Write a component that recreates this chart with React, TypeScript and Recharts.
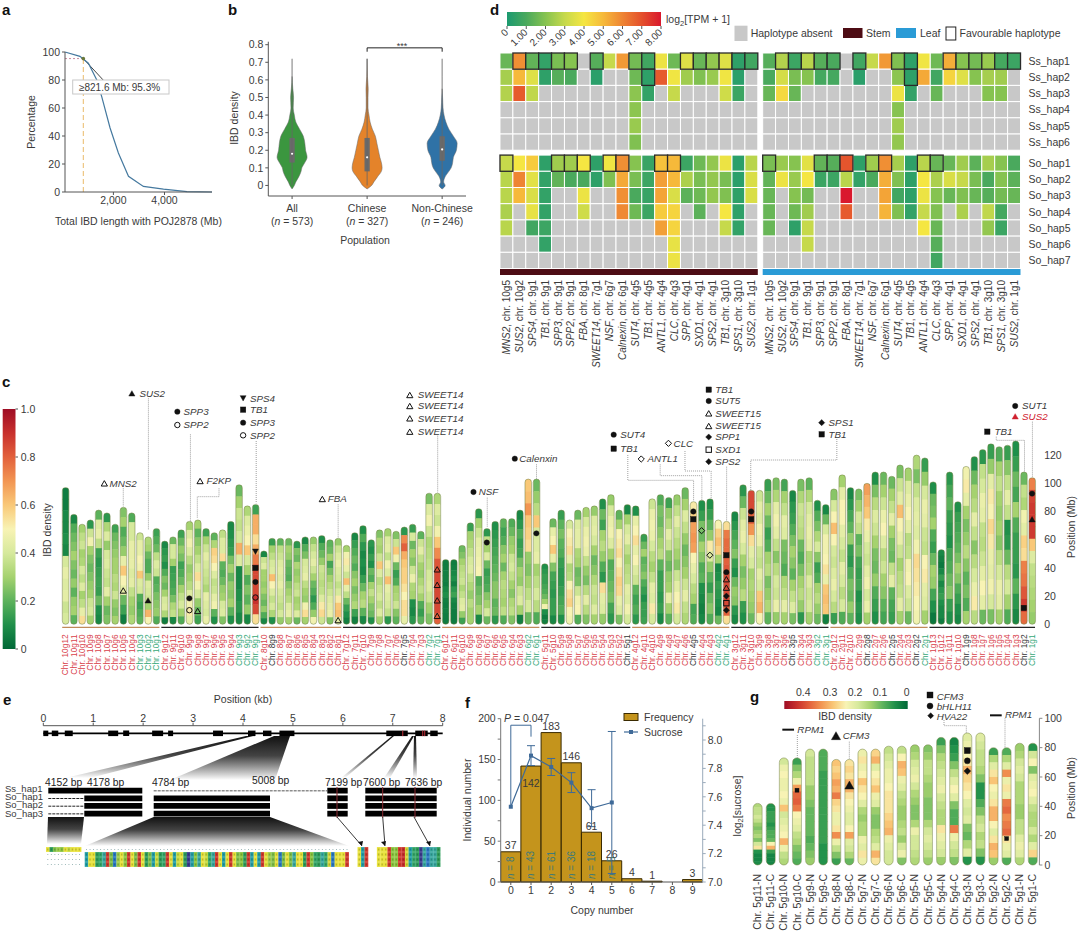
import React from 'react'
import {
  Area, Bar, BarChart, ComposedChart, ErrorBar, LabelList, Line, LineChart,
  ReferenceArea, ReferenceDot, ReferenceLine, Scatter, ScatterChart, XAxis, YAxis,
} from 'recharts'

const FONT = '"Liberation Sans", Arial, sans-serif'
const INK = '#3a3a3a'

// ---- panel a
const ibdLength = [105, 690, 1020, 1350, 1545, 1870, 2195, 2590, 3175, 3960, 4880, 5860]
const ibdPercent = [100, 96.9, 92, 80, 68, 45.7, 27.9, 11.2, 4, 2, 0.2, 0]

// ---- panel b
const violinY = [-0.02, 0, 0.02, 0.05, 0.08, 0.1, 0.13, 0.16, 0.2, 0.24, 0.28, 0.32, 0.36, 0.4, 0.44, 0.5, 0.55, 0.62, 0.72]
const violinAll = [0, 0.03, 0.05, 0.09, 0.12, 0.13, 0.17, 0.2, 0.18, 0.17, 0.15, 0.1, 0.05, 0.03, 0.015, 0.02, 0.01, 0, 0]
const violinChinese = [0, 0.06, 0.09, 0.14, 0.19, 0.2, 0.19, 0.17, 0.15, 0.13, 0.11, 0.07, 0.04, 0.025, 0.012, 0.012, 0.015, 0.004, 0]
const violinNon = [0, 0.04, 0.02, 0.04, 0.09, 0.12, 0.14, 0.15, 0.19, 0.2, 0.15, 0.09, 0.05, 0.025, 0.012, 0.006, 0, 0, 0]
const violinLabels = ['All', 'Chinese', 'Non-Chinese']
const violinCounts = ['573', '327', '246']
const boxLow = [0.13, 0.08, 0.14]
const boxHigh = [0.27, 0.27, 0.28]
const medians = [0.18, 0.16, 0.205]
const whiskerTop = [0.62, 0.72, 0.55]
const violinColours = ['#3b963f', '#e4832a', '#2f72a6']

// ---- panel d
const _ = null
const geneNames = ['MNS2', 'SUS2', 'SPS4', 'TB1', 'SPP3', 'SPP2', 'FBA', 'SWEET14', 'NSF', 'Calnexin', 'SUT4', 'TB1', 'ANTL1', 'CLC', 'SPP', 'SXD1', 'SPS2', 'TB1', 'SPS1', 'SUS2']
const geneChrs = ['10g5', '10g2', '9g1', '9g1', '9g1', '9g1', '8g1', '7g1', '6g7', '6g1', '4g5', '4g5', '4g4', '4g3', '4g1', '4g1', '4g1', '3g10', '3g10', '1g1']
const hapRows = ['Ss_hap1', 'Ss_hap2', 'Ss_hap3', 'Ss_hap4', 'Ss_hap5', 'Ss_hap6', 'So_hap1', 'So_hap2', 'So_hap3', 'So_hap4', 'So_hap5', 'So_hap6', 'So_hap7']
const stemTpm = [
  [1.5, 5.8, 1.4, 0.5, 1.8, 2.0, _, 1.2, 3.0, 5.6, 1.7, 0.8, 3.8, 1.6, 3.5, 1.5, 2.2, 3.5, 0.4, 0.8],
  [2.5, 5.0, 3.5, 0.4, 1.2, 1.0, _, 0.3, _, _, 1.6, 0.4, 6.8, 3.9, 2.4, 1.9, 2.3, 3.9, 0.3, _],
  [2.7, 6.8, 2.9, _, _, _, _, _, _, _, 2.1, 0.5, _, 3.0, _, _, _, 3.2, 0.7, _],
  [_, _, _, _, _, _, _, _, _, _, 2.1, _, _, _, _, _, _, _, _, _],
  [_, _, _, _, _, _, _, _, _, _, 2.3, _, _, _, _, _, _, _, _, _],
  [_, _, _, _, _, _, _, _, _, _, 1.9, _, _, _, _, _, _, _, _, _],
  [3.0, 4.0, 4.6, 0.4, 2.4, 2.4, 4.0, 0.4, 3.9, 5.8, 2.0, 0.6, 4.8, 5.0, 0.7, 1.6, 2.2, 3.8, 0.3, 2.8],
  [2.8, 6.0, 3.6, 0.5, 1.4, 1.0, 1.0, 0.4, 1.9, 5.3, 1.8, 0.7, 5.5, 5.0, 2.6, 1.8, 2.2, 1.8, 0.3, 3.4],
  [2.8, 5.0, 3.4, 0.5, _, _, 3.8, _, _, 5.8, 1.0, 0.6, 5.4, 3.4, 1.3, 1.6, 2.2, 1.9, 0.4, 3.4],
  [2.6, _, 3.7, 0.5, _, _, 3.2, _, _, 5.9, 1.6, 0.7, 4.6, 4.4, _, 1.3, _, 4.0, 0.4, _],
  [2.8, _, 0.8, 0.7, _, _, _, _, _, _, _, _, 5.5, 4.4, _, _, _, 3.0, 0.5, _],
  [_, _, _, 0.5, _, _, _, _, _, _, _, _, _, 3.7, _, _, _, _, _, _],
  [_, _, _, _, _, _, _, _, _, _, _, _, _, 3.8, _, _, _, _, _, _],
]
const leafTpm = [
  [1.2, 2.7, 0.7, 2.8, 1.2, 1.0, _, 0.8, 3.0, 5.6, 1.9, 0.4, 3.9, 1.6, 5.2, 2.0, 1.7, 2.3, 0.9, 0.7],
  [1.0, 3.3, 1.8, 2.0, 0.9, 0.9, _, 0.3, _, _, 2.1, 0.4, 5.3, 0.8, 4.4, 3.5, 2.0, 2.5, 2.4, _],
  [1.5, 4.3, 1.5, _, _, _, _, _, _, _, 3.8, 0.5, _, 1.5, _, _, _, 2.0, 2.0, _],
  [_, _, _, _, _, _, _, _, _, _, 2.0, _, _, _, _, _, _, _, _, _],
  [_, _, _, _, _, _, _, _, _, _, 2.4, _, _, _, _, _, _, _, _, _],
  [_, _, _, _, _, _, _, _, _, _, 2.2, _, _, _, _, _, _, _, _, _],
  [1.8, 2.3, 2.0, 3.6, 1.4, 1.2, 6.9, 0.4, 2.4, 5.8, 2.5, 0.4, 2.8, 1.5, 1.5, 2.4, 1.3, 2.5, 2.0, 1.0],
  [1.4, 3.8, 2.3, 4.0, 0.7, 0.7, 2.8, 0.5, 1.0, 5.2, 1.9, 0.4, 4.0, 2.6, 3.4, 3.0, 1.8, 1.0, 2.0, 1.3],
  [1.5, _, 2.0, 1.7, _, _, 8.0, _, _, 5.4, 0.8, 0.4, 3.8, 2.0, 1.5, 1.9, 1.5, 1.2, 1.7, 1.5],
  [1.5, _, 1.6, 2.4, _, _, 6.8, _, _, 5.1, 1.9, 0.5, 3.0, 1.9, _, 2.6, _, 2.9, 0.9, _],
  [1.5, _, 0.4, 3.0, _, _, _, _, _, _, _, _, 4.0, 1.5, _, _, _, 2.2, 0.7, _],
  [_, _, _, 3.0, _, _, _, _, _, _, _, _, _, 1.2, _, _, _, _, _, _],
  [_, _, _, _, _, _, _, _, _, _, _, _, _, 0.8, _, _, _, _, _, _],
]
const favourableSs1 = [1, 2, 3, 4, 5, 7, 10, 11, 14, 15, 16, 17, 18, 19]
const favourableSs2 = [11]
const favourableSo1 = [0, 4, 5, 6, 8, 9, 12, 13]

// ---- panel c: length in Mb, bands read top to bottom as density x 100
const chr10Len = [97, 78, 71, 74, 81, 79, 71, 83, 79, 65, 62, 68]
const chr10Bands = [
  [5, 5, 8, 8, 10, 8, 40, 45, 42, 44, 38, 40], [8, 18, 22, 25, 30, 25, 22, 28, 20, 28, 30, 20], [30, 35, 38, 30, 32, 40, 35, 42, 30, 35, 45, 55], [12, 38, 48, 30, 25, 22, 25, 28, 30, 38, 40, 30],
  [20, 42, 45, 35, 15, 12, 14, 15, 14, 22, 10, 8], [12, 32, 42, 28, 40, 42, 38, 36, 44, 30, 22, 25], [15, 22, 25, 28, 30, 30, 34, 32, 38, 28, 25, 30], [25, 30, 18, 22, 28, 45, 60, 50, 45, 22, 15, 5],
  [18, 40, 40, 45, 45, 45, 42, 44, 36, 30, 28, 32], [38, 45, 45, 50, 48, 60, 42, 40, 18, 15, 18, 20], [32, 30, 22, 18, 18, 28, 42, 40, 38, 30, 64, 50], [15, 18, 22, 35, 42, 38, 18, 20, 24, 26, 28, 18],
]
const chr9Len = [59, 62, 67, 73, 74, 68, 65, 67, 73, 99, 84, 85]
const chr9Bands = [
  [8, 12, 14, 10, 18, 25, 22, 30, 40, 42, 32, 5], [22, 40, 40, 30, 14, 15, 16, 18, 24, 32, 36, 8], [15, 22, 28, 24, 15, 18, 22, 30, 36, 40, 30, 18], [30, 42, 48, 42, 34, 28, 30, 34, 42, 48, 52, 45],
  [30, 20, 26, 30, 36, 42, 55, 48, 40, 28, 22, 15], [15, 30, 38, 44, 40, 38, 36, 32, 45, 42, 40, 46], [20, 32, 58, 55, 50, 42, 36, 38, 44, 48, 20, 10], [35, 42, 42, 55, 20, 18, 22, 28, 30, 40, 42, 25],
  [8, 10, 12, 14, 24, 30, 22, 28, 26, 30, 20, 10], [22, 30, 38, 36, 40, 65, 42, 8, 8, 10, 12, 8], [32, 42, 46, 50, 60, 40, 30, 18, 25, 20, 28, 8], [15, 65, 65, 55, 65, 75, 85, 85, 85, 90, 85, 55],
]
const chr8Len = [52, 61, 61, 61, 59, 62, 62, 63, 60, 61]
const chr8Bands = [
  [8, 38, 42, 30, 30, 28, 30, 25, 22, 28, 18, 8], [14, 30, 35, 40, 42, 62, 50, 42, 36, 40, 32, 10], [20, 35, 38, 42, 44, 42, 45, 40, 38, 35, 40, 28], [22, 30, 28, 22, 20, 18, 26, 30, 34, 42, 45, 30],
  [12, 25, 22, 32, 28, 30, 35, 38, 30, 32, 42, 22], [8, 18, 24, 40, 42, 45, 35, 30, 28, 48, 55, 30], [28, 36, 40, 44, 38, 30, 22, 18, 12, 18, 28, 48], [10, 18, 22, 28, 38, 36, 34, 36, 42, 52, 56, 38],
  [20, 22, 30, 16, 24, 30, 34, 38, 42, 44, 46, 25], [28, 38, 42, 46, 42, 40, 36, 40, 52, 60, 62, 45],
]
const chr7Len = [56, 65, 70, 60, 67, 68, 66, 69, 71, 66, 93, 93]
const chr7Bands = [
  [30, 48, 52, 46, 38, 62, 45, 35, 22, 14, 10, 6], [8, 14, 18, 22, 18, 26, 30, 24, 28, 32, 15, 6], [10, 18, 12, 8, 10, 8, 14, 22, 30, 34, 20, 8], [12, 10, 14, 10, 22, 18, 30, 36, 30, 25, 22, 10],
  [25, 32, 30, 38, 60, 42, 34, 38, 40, 35, 42, 30], [30, 42, 44, 36, 48, 42, 62, 45, 42, 40, 36, 12], [25, 38, 60, 48, 22, 14, 18, 30, 32, 38, 26, 20], [12, 72, 80, 65, 60, 58, 58, 54, 50, 55, 55, 45],
  [14, 40, 22, 30, 26, 38, 46, 32, 30, 10, 8, 12], [20, 38, 44, 36, 30, 28, 32, 36, 30, 18, 14, 20], [24, 42, 48, 38, 32, 34, 36, 40, 42, 38, 30, 25], [32, 42, 38, 48, 60, 72, 82, 85, 85, 85, 85, 80],
]
const chr6Len = [46, 46, 56, 72, 82, 68, 73, 75, 75, 81, 103, 103]
const chr6Bands = [
  [5, 5, 6, 6, 5, 8, 10, 6, 5, 6, 5, 5], [5, 6, 8, 10, 6, 12, 15, 8, 6, 5, 5, 5], [22, 25, 30, 34, 36, 38, 32, 36, 42, 44, 28, 15], [14, 30, 32, 36, 40, 42, 36, 32, 28, 34, 30, 30],
  [12, 30, 38, 44, 46, 48, 50, 18, 22, 25, 30, 8], [12, 36, 30, 42, 22, 14, 16, 18, 26, 30, 40, 22], [10, 12, 14, 16, 18, 20, 22, 26, 26, 20, 22, 12], [20, 15, 18, 26, 30, 22, 30, 34, 32, 30, 35, 18],
  [18, 22, 28, 30, 38, 40, 36, 30, 26, 32, 35, 25], [8, 12, 18, 14, 16, 24, 30, 28, 38, 42, 30, 6], [60, 62, 70, 60, 58, 55, 28, 25, 30, 35, 40, 22], [22, 28, 34, 60, 40, 42, 45, 30, 35, 40, 34, 18],
]
const chr5Len = [43, 75, 81, 74, 81, 83, 84, 89, 92, 81, 85]
const chr5Bands = [
  [10, 12, 14, 14, 16, 18, 22, 30, 48, 10, 5, 6], [22, 45, 50, 60, 45, 25, 16, 14, 12, 14, 14, 8], [14, 20, 24, 20, 18, 14, 12, 12, 14, 16, 18, 10], [40, 50, 52, 55, 45, 32, 34, 50, 55, 58, 50, 48],
  [22, 42, 44, 44, 32, 30, 22, 24, 38, 48, 50, 18], [30, 40, 46, 48, 46, 36, 28, 24, 34, 44, 34, 25], [28, 42, 44, 40, 30, 22, 26, 32, 38, 36, 42, 30], [10, 22, 15, 30, 34, 28, 18, 12, 55, 44, 42, 28],
  [28, 40, 46, 48, 42, 30, 18, 20, 22, 24, 16, 12], [20, 30, 50, 52, 55, 50, 54, 58, 56, 46, 42, 24], [8, 30, 40, 44, 36, 30, 34, 36, 44, 42, 48, 40],
]
const chr4Len = [84, 64, 89, 92, 90, 92, 97, 87, 88, 89, 74, 73]
const chr4Bands = [
  [10, 45, 50, 55, 45, 50, 42, 38, 20, 15, 18, 12], [14, 22, 30, 20, 22, 26, 18, 14, 10, 14, 14, 15], [38, 46, 48, 46, 40, 34, 30, 36, 44, 42, 52, 40], [18, 24, 22, 26, 30, 34, 20, 14, 14, 12, 14, 8],
  [15, 28, 34, 44, 38, 26, 22, 28, 30, 45, 30, 20], [28, 36, 44, 38, 34, 30, 26, 38, 44, 50, 52, 40], [22, 30, 42, 36, 28, 22, 26, 30, 38, 44, 36, 32], [52, 58, 68, 70, 68, 50, 45, 40, 34, 30, 16, 18],
  [10, 14, 24, 22, 30, 26, 18, 20, 10, 8, 6, 8], [10, 14, 20, 28, 52, 42, 28, 20, 14, 22, 26, 18], [50, 58, 62, 58, 30, 8, 10, 14, 12, 10, 8, 22], [55, 75, 78, 78, 80, 82, 85, 85, 85, 85, 80, 55],
]
const chr3Len = [80, 99, 95, 95, 103, 104, 103, 95, 103, 104, 88, 85]
const chr3Bands = [
  [8, 12, 16, 20, 25, 14, 10, 22, 28, 26, 12, 8], [12, 22, 38, 44, 46, 40, 30, 24, 28, 34, 14, 10], [85, 85, 80, 70, 55, 44, 40, 30, 32, 30, 28, 22], [38, 44, 42, 48, 46, 38, 36, 44, 40, 60, 64, 50],
  [14, 22, 30, 22, 14, 18, 30, 34, 24, 28, 32, 20], [24, 32, 44, 48, 44, 36, 26, 34, 40, 38, 46, 28], [16, 30, 36, 44, 42, 24, 22, 18, 32, 36, 44, 30], [8, 12, 14, 18, 24, 30, 26, 20, 30, 36, 42, 24],
  [24, 32, 38, 36, 34, 22, 18, 24, 30, 34, 28, 12], [20, 32, 40, 44, 46, 44, 32, 34, 42, 38, 40, 30], [10, 18, 24, 32, 40, 26, 14, 18, 30, 34, 28, 22], [8, 22, 40, 48, 48, 50, 54, 46, 60, 62, 60, 6],
]
const chr2Len = [96, 106, 97, 96, 100, 108, 108, 105, 113, 111, 120, 118]
const chr2Bands = [
  [26, 40, 50, 62, 50, 40, 38, 42, 46, 40, 34, 14], [30, 44, 50, 50, 44, 40, 36, 44, 40, 34, 40, 18], [8, 12, 16, 20, 28, 14, 12, 18, 24, 22, 28, 20], [24, 30, 40, 36, 20, 24, 16, 14, 16, 10, 12, 10],
  [68, 64, 60, 52, 46, 40, 38, 44, 48, 40, 46, 30], [10, 24, 34, 42, 38, 30, 24, 22, 28, 18, 14, 10], [22, 30, 38, 46, 50, 42, 34, 38, 30, 26, 20, 16], [22, 30, 36, 44, 30, 24, 22, 36, 44, 20, 16, 14],
  [24, 38, 44, 62, 50, 46, 38, 30, 34, 36, 44, 30], [30, 42, 46, 50, 44, 34, 36, 48, 50, 42, 38, 22], [32, 24, 36, 42, 44, 42, 48, 56, 54, 52, 50, 48], [14, 28, 40, 46, 44, 38, 36, 50, 52, 44, 42, 30],
]
const chr1Len = [101, 53, 108, 87, 112, 119, 124, 128, 126, 127, 130, 108, 104]
const chr1Bands = [
  [10, 22, 24, 30, 18, 14, 22, 30, 28, 16, 10, 4], [8, 6, 4, 8, 14, 8, 12, 14, 10, 8, 8, 5], [12, 16, 20, 14, 12, 10, 16, 18, 22, 26, 14, 10], [10, 14, 16, 18, 20, 24, 30, 26, 18, 14, 10, 8],
  [48, 52, 44, 30, 24, 28, 34, 26, 20, 24, 18, 30], [10, 22, 30, 34, 44, 36, 26, 34, 40, 46, 52, 34], [12, 36, 40, 46, 44, 36, 34, 38, 44, 50, 44, 22], [14, 28, 44, 52, 50, 56, 52, 46, 44, 48, 40, 24],
  [18, 30, 36, 30, 28, 30, 26, 34, 40, 46, 44, 30], [14, 26, 36, 44, 36, 10, 12, 22, 34, 40, 30, 18], [10, 14, 22, 16, 30, 18, 14, 14, 12, 20, 12, 8], [22, 36, 32, 48, 44, 58, 55, 74, 76, 82, 88, 78],
  [74, 86, 88, 88, 88, 60, 42, 36, 34, 32, 30, 28],
]
const greenLabels = ['10g3', '10g2', '10g1', '9g3', '9g2', '9g1', '7g2', '7g1', '6g2', '6g1', '4g2', '4g1', '3g2', '3g1', '2g1', '1g1']
const blackLabels = ['8g9', '7g5', '5g1', '4g5', '3g5', '2g8', '2g5', '2g2', '1g9', '1g2']
const chromGroups = [
  { chr: 10, len: chr10Len, bands: chr10Bands }, { chr: 9, len: chr9Len, bands: chr9Bands }, { chr: 8, len: chr8Len, bands: chr8Bands },
  { chr: 7, len: chr7Len, bands: chr7Bands }, { chr: 6, len: chr6Len, bands: chr6Bands }, { chr: 5, len: chr5Len, bands: chr5Bands },
  { chr: 4, len: chr4Len, bands: chr4Bands }, { chr: 3, len: chr3Len, bands: chr3Bands }, { chr: 2, len: chr2Len, bands: chr2Bands },
  { chr: 1, len: chr1Len, bands: chr1Bands },
]
const chromRows = chromGroups.flatMap((g) => g.len.map((len, i) => ({
  id: `${g.chr}g${g.len.length - i}`, len, bands: g.bands[i],
})))
// gene markers on the chromosomes: kind, chromosome, position (Mb)
const chromMarkers: [string, string, number][] = [
  ['triOpen', '10g5', 24], ['tri', '10g2', 17], ['circle', '9g9', 18.4], ['circleOpen', '9g9', 10], ['triOpen', '9g8', 9.5],
  ['triDown', '9g1', 51.5], ['sq', '9g1', 40], ['circle', '9g1', 30], ['circleOpen', '9g1', 19], ['triOpen', '8g1', 3],
  ['triOpen', '7g1', 39], ['triOpen', '7g1', 28], ['triOpen', '7g1', 17], ['triOpen', '7g1', 6], ['circle', '6g7', 58], ['circle', '6g1', 64.5],
  ['circle', '4g5', 80], ['sq', '4g5', 74.5], ['diamondOpen', '4g4', 66.4], ['diamondOpen', '4g3', 49],
  ['sq', '4g1', 49], ['circle', '4g1', 37], ['triOpen', '4g1', 32], ['triOpen', '4g1', 26], ['diamond', '4g1', 20], ['sqOpen', '4g1', 15], ['diamond', '4g1', 10],
  ['circle', '3g10', 80], ['sq', '3g10', 74.5], ['sq', '1g2', 11.6], ['circle', '1g1', 92.7], ['tri', '1g1', 74.5],
]

// ---- panel e
const exonStart = [0, 0.17, 0.43, 1.3, 1.6, 2.18, 2.5, 3.4, 4.1, 4.4, 4.73, 6.87, 7.45, 7.75]
const exonEnd = [0.1, 0.3, 0.59, 1.5, 1.72, 2.4, 2.6, 3.6, 4.25, 4.57, 5.03, 7.3, 7.7, 7.9]
const snpSites = [7.2, 7.6, 7.64]
const kbTicks = [0, 1, 2, 3, 4, 5, 6, 7, 8]
const hapNames = ['Ss_hap1', 'So_hap1', 'So_hap2', 'So_hap3']
const msaFirst = 'LYSTFLVILL'
const msaLong = 'KMIYQNESHTAFELSELYSKVYQEIKVIDPKFNIVQNEAKMEISFYEKAKELTSLHSISNLLYEFQDNQCHILAE'
const msaShort = 'MKE'
const msaLast = 'LMAEFFERCKQDPNHNNY'

// ---- panel f
const copyNumbers = [0, 1, 2, 3, 4, 5, 6, 7, 8, 9]
const frequency = [37, 142, 183, 146, 61, 26, 4, 1, 0, 3]
const sucrose = [7.53, 7.89, 7.81, 7.7, 7.52, 7.56, _, _, _, _]
const sucroseErr = [0, 0.07, 0.06, 0.07, 0.13, 0.5, _, _, _, _]
const sampleN = [8, 43, 61, 36, 18, 5, _, _, _, _]

// ---- panel g: length in Mb, bands top to bottom as density x 100
const gNames = ['5g11', '5g10', '5g9', '5g8', '5g7', '5g6', '5g5', '5g4', '5g3', '5g2', '5g1']
const gLen = [42, 73, 79, 72, 79, 81, 82, 87, 90, 80, 83]
const gBandsN = [
  [18, 20, 20, 22, 20, 16, 14, 16, 18, 14, 22, 30, 6, 4, 4, 5],
  [22, 26, 28, 26, 26, 28, 26, 34, 22, 24, 26, 28, 36, 26, 20, 18],
  [22, 20, 20, 20, 20, 16, 16, 14, 12, 12, 12, 12, 10, 12, 14, 16],
  [34, 32, 34, 38, 36, 42, 32, 30, 26, 26, 30, 40, 26, 20, 14, 8],
  [26, 30, 26, 28, 34, 30, 28, 24, 18, 16, 18, 18, 26, 24, 30, 26],
  [20, 22, 24, 26, 26, 28, 30, 30, 30, 32, 34, 36, 26, 24, 22, 22],
  [16, 18, 22, 24, 26, 22, 18, 16, 14, 14, 18, 26, 22, 22, 20, 18],
  [8, 14, 18, 20, 22, 24, 26, 22, 20, 18, 18, 30, 26, 24, 22, 16],
  [24, 26, 28, 30, 36, 32, 30, 28, 24, 22, 24, 14, 12, 18, 24, 6],
  [8, 18, 24, 30, 34, 28, 26, 30, 36, 36, 28, 24, 30, 36, 34, 16],
  [16, 18, 22, 24, 22, 18, 18, 18, 16, 16, 20, 20, 24, 26, 24, 18],
]
const gBandsC = [
  [6, 6, 8, 8, 8, 6, 8, 10, 10, 12, 28, 36, 8, 4, 4, 4],
  [8, 14, 18, 26, 38, 44, 45, 42, 28, 26, 24, 20, 18, 14, 12, 10],
  [10, 10, 10, 8, 8, 8, 8, 8, 8, 8, 8, 8, 8, 6, 6, 6],
  [30, 32, 30, 36, 36, 30, 28, 26, 24, 24, 28, 38, 24, 22, 18, 12],
  [32, 36, 24, 28, 30, 34, 26, 24, 16, 14, 14, 18, 20, 24, 36, 30],
  [20, 28, 36, 34, 26, 24, 20, 18, 16, 16, 18, 20, 16, 22, 26, 14],
  [14, 16, 20, 20, 18, 16, 16, 14, 14, 14, 18, 22, 24, 22, 20, 16],
  [4, 6, 8, 14, 20, 24, 28, 24, 14, 10, 10, 42, 26, 22, 20, 14],
  [24, 22, 20, 20, 18, 14, 6, 6, 10, 14, 20, 22, 18, 20, 14, 6],
  [10, 18, 24, 40, 26, 30, 26, 42, 44, 40, 42, 44, 30, 26, 24, 10],
  [6, 22, 28, 14, 24, 26, 28, 24, 20, 18, 18, 22, 18, 24, 32, 10],
]
const gRows = gNames.flatMap((n, i) => [
  { id: `${n}-N`, len: gLen[i], bands: gBandsN[i] },
  { id: `${n}-C`, len: gLen[i], bands: gBandsC[i] },
])
const gMarkers: [string, string, number][] = [
  ['sq', '5g10-C', 51], ['tri', '5g8-C', 54.5], ['sq', '5g3-N', 78], ['circle', '5g3-N', 71], ['diamond', '5g3-N', 64], ['sq', '5g2-C', 18],
]

// ---- colour helpers
const densityStops: [number, string][] = [
  [0, '#006837'], [0.1, '#1f8f4a'], [0.2, '#5cb25c'], [0.3, '#a5d26f'], [0.4, '#d6e99c'], [0.5, '#f8f3b4'],
  [0.6, '#f9c878'], [0.7, '#f29552'], [0.8, '#e2603c'], [0.9, '#c8302d'], [1, '#9e0d25'],
]
const tpmStops: [number, string][] = [
  [0, '#1c9a70'], [1, '#4aa95d'], [2, '#86c350'], [3, '#c6d94b'], [4, '#f5e642'], [5, '#f6b93a'], [6, '#ee8433'], [7, '#e4502c'], [8, '#d9182d'],
]
const mix = (stops: [number, string][], v: number) => {
  const hex = (s: string, i: number) => parseInt(s.slice(i, i + 2), 16)
  let k = 0
  while (k < stops.length - 2 && v > stops[k + 1][0]) k++
  const [a, ca] = stops[k]
  const [b, cb] = stops[k + 1]
  const t = Math.min(1, Math.max(0, (v - a) / (b - a)))
  const ch = [1, 3, 5].map((i) => Math.round(hex(ca, i) + (hex(cb, i) - hex(ca, i)) * t))
  return `rgb(${ch.join(',')})`
}

// ---- shared marks
const Marker = ({ kind, cx, cy, r = 3, fill = '#111' }: any) => {
  const open = kind.endsWith('Open')
  const shapeProps = {
    fill: open ? 'none' : fill,
    stroke: fill,
    strokeWidth: open ? 1 : 0.4,
  }
  if (kind.startsWith('circle')) return <circle cx={cx} cy={cy} r={r} {...shapeProps} />
  if (kind.startsWith('sq')) return <rect x={cx - r} y={cy - r} width={2 * r} height={2 * r} {...shapeProps} />
  if (kind.startsWith('diamond')) return <polygon points={`${cx},${cy - r * 1.15} ${cx + r * 1.15},${cy} ${cx},${cy + r * 1.15} ${cx - r * 1.15},${cy}`} {...shapeProps} />
  if (kind === 'triDown') return <polygon points={`${cx - r * 1.1},${cy - r} ${cx + r * 1.1},${cy - r} ${cx},${cy + r}`} {...shapeProps} />
  return <polygon points={`${cx},${cy - r} ${cx + r * 1.15},${cy + r} ${cx - r * 1.15},${cy + r}`} {...shapeProps} />
}

const chromShape = (prefix: string, scaleMax: number) => (p: any) => {
  const { x, y, width, height, payload, index } = p
  const bands: number[] = payload.bands
  const h = height / bands.length
  const id = `${prefix}${index}`
  const rx = width / 2
  return (
    <g>
      <clipPath id={id}><rect x={x} y={y} width={width} height={height} rx={rx} /></clipPath>
      <g clipPath={`url(#${id})`}>
        {bands.map((b, i) => (
          <rect key={i} x={x} y={y + i * h} width={width} height={h + 0.5} fill={mix(densityStops, b / scaleMax)} />
        ))}
      </g>
      <rect x={x} y={y} width={width} height={height} rx={rx} fill="none" stroke="#6f7f3c" strokeWidth={0.5} />
    </g>
  )
}

const axisText = { fontSize: 10.5, fill: INK, fontFamily: FONT }

// ---- panel a
const ibdRows = ibdLength.map((x, i) => ({ x, y: ibdPercent[i] }))
const PanelA = () => (
  <div style={{ position: 'absolute', left: 0, top: 0 }}>
    <LineChart width={230} height={240} data={ibdRows} margin={{ top: 52, right: 18, bottom: 0, left: 0 }}>
      <XAxis dataKey="x" type="number" domain={[105, 5860]} ticks={[2000, 4000]} height={48}
        tickFormatter={(v) => v.toLocaleString('en-US')} tick={axisText} stroke="#555" tickSize={3} />
      <YAxis type="number" domain={[0, 100]} ticks={[0, 20, 40, 60, 80, 100]} width={65} tick={axisText} stroke="#555" tickSize={3} />
      <ReferenceLine segment={[{ x: 105, y: 95.3 }, { x: 821.6, y: 95.3 }]} stroke="#c78aa0" strokeDasharray="2 2" />
      <ReferenceLine segment={[{ x: 821.6, y: 0 }, { x: 821.6, y: 95.3 }]} stroke="#eabb6a" strokeDasharray="5 3" />
      <ReferenceLine segment={[{ x: 821.6, y: 95.3 }, { x: 1600, y: 80 }]} stroke="#444" />
      <Line dataKey="y" stroke="#45799f" strokeWidth={1.2} dot={false} isAnimationActive={false} />
      <ReferenceDot x={821.6} y={95.3} r={1.8} fill="#6b7a3a" stroke="none" />
    </LineChart>
  </div>
)

// ---- panel b
const spread = (c: number, w: number) => [c - w, c + w]
const violinRows = violinY.map((y, i) => ({
  y,
  all: spread(0, violinAll[i]),
  chinese: spread(1, violinChinese[i]),
  non: spread(2, violinNon[i]),
}))
const ViolinTick = ({ x, y, payload }: any) => {
  const i = payload.value
  return (
    <g fontSize={10.5} fill={INK} textAnchor="middle" fontFamily={FONT}>
      <text x={x} y={y + 11}>{violinLabels[i]}</text>
      <text x={x} y={y + 24}>(<tspan fontStyle="italic">n</tspan> = {violinCounts[i]})</text>
    </g>
  )
}
const PanelB = () => (
  <div style={{ position: 'absolute', left: 228, top: 0 }}>
    <ComposedChart layout="vertical" width={250} height={240} data={violinRows} margin={{ top: 41.7, right: 12, bottom: 0, left: 0 }}>
      <XAxis type="number" dataKey={undefined} domain={[-0.317, 2.318]} ticks={[0, 1, 2]} height={44} tick={<ViolinTick />} stroke="#555" tickSize={3} interval={0} />
      <YAxis type="number" dataKey="y" domain={[-0.06, 0.817]} ticks={[0, 0.1, 0.2, 0.3, 0.4, 0.5, 0.6, 0.7, 0.8]} width={40.3}
        tickFormatter={(v) => (v === 0 ? '0' : v.toFixed(1))} tick={axisText} stroke="#555" tickSize={3} reversed />
      <Area dataKey="all" type="monotone" fill={violinColours[0]} fillOpacity={1} stroke="#666" strokeWidth={0.5} isAnimationActive={false} dot={false} activeDot={false} />
      <Area dataKey="chinese" type="monotone" fill={violinColours[1]} fillOpacity={1} stroke="#666" strokeWidth={0.5} isAnimationActive={false} dot={false} activeDot={false} />
      <Area dataKey="non" type="monotone" fill={violinColours[2]} fillOpacity={1} stroke="#666" strokeWidth={0.5} isAnimationActive={false} dot={false} activeDot={false} />
      {[0, 1, 2].map((c) => (
        <ReferenceLine key={`w${c}`} segment={[{ x: c, y: 0 }, { x: c, y: whiskerTop[c] }]} stroke="#666" strokeWidth={0.8} />
      ))}
      {[0, 1, 2].map((c) => (
        <ReferenceArea key={`b${c}`} x1={c - 0.035} x2={c + 0.035} y1={boxLow[c]} y2={boxHigh[c]} fill="#6a6a6a" fillOpacity={1} stroke="none" />
      ))}
      {[0, 1, 2].map((c) => (
        <ReferenceDot key={`m${c}`} x={c} y={medians[c]} r={1.1} fill="#fff" stroke="none" />
      ))}
      <ReferenceLine segment={[{ x: 1, y: 0.76 }, { x: 1, y: 0.782 }]} stroke="#222" />
      <ReferenceLine segment={[{ x: 1, y: 0.782 }, { x: 2, y: 0.782 }]} stroke="#222" />
      <ReferenceLine segment={[{ x: 2, y: 0.76 }, { x: 2, y: 0.782 }]} stroke="#222" />
    </ComposedChart>
  </div>
)

// ---- panel d
const LEAF_SHIFT = 20.38
const CELL_W = 12.93
const CELL_H = 16.2
const rowCentre = (r: number) => (r < 6 ? r + 0.5 : r + 0.8)
const heatCells = (matrix: (number | null)[][], shift: number) =>
  matrix.flatMap((row, r) => row.map((v, c) => ({ x: c + 0.5 + shift, y: rowCentre(r), v, r, c })))
const allCells = [...heatCells(stemTpm, 0), ...heatCells(leafTpm, LEAF_SHIFT)]
const isFavourable = (d: any) =>
  (d.r === 0 && favourableSs1.includes(d.c)) || (d.r === 1 && favourableSs2.includes(d.c)) || (d.r === 6 && favourableSo1.includes(d.c))
const plainCells = allCells.filter((d) => !isFavourable(d))
const boxedCells = allCells.filter(isFavourable)
const cellFill = (v: number | null) => (v === null ? '#c8c8c8' : mix(tpmStops, v))
const plainCell = (p: any) => (
  <rect x={p.cx - CELL_W / 2} y={p.cy - CELL_H / 2} width={CELL_W} height={CELL_H} fill={cellFill(p.payload.v)} stroke="#fff" strokeWidth={1} />
)
const boxedCell = (p: any) => (
  <rect x={p.cx - CELL_W / 2} y={p.cy - CELL_H / 2} width={CELL_W} height={CELL_H} fill={cellFill(p.payload.v)} stroke="#2a2a2a" strokeWidth={1.3} />
)
const geneTicks = [...geneNames.map((_g, i) => i + 0.5), ...geneNames.map((_g, i) => i + 0.5 + LEAF_SHIFT)]
const GeneTick = ({ x, y, payload }: any) => {
  const v = payload.value
  const i = Math.floor(v >= LEAF_SHIFT ? v - LEAF_SHIFT : v)
  return (
    <text transform={`translate(${x + 3.5},${y - 3}) rotate(-90)`} textAnchor="end" fontSize={10} fill={INK} fontFamily={FONT}>
      <tspan fontStyle="italic">{geneNames[i]}</tspan>, chr. {geneChrs[i]}
    </text>
  )
}
const PanelD = () => (
  <div style={{ position: 'absolute', left: 490, top: 40 }}>
    <ScatterChart width={590} height={340} margin={{ top: 13, right: 0, bottom: 0, left: 10 }}>
      <XAxis type="number" dataKey="x" domain={[0, 40.38]} ticks={geneTicks} interval={0} height={105} axisLine={false} tickLine={false} tick={<GeneTick />} />
      <YAxis type="number" dataKey="y" domain={[0, 13.7]} reversed orientation="right" width={59.5} axisLine={false} tickLine={false}
        ticks={hapRows.map((_h, r) => rowCentre(r))} interval={0}
        tickFormatter={(v) => hapRows[v < 6 ? v - 0.5 : v - 0.8]} tick={axisText} tickMargin={2} />
      <Scatter data={plainCells} shape={plainCell} isAnimationActive={false} />
      <Scatter data={boxedCells} shape={boxedCell} isAnimationActive={false} />
      <ReferenceArea x1={0} x2={20} y1={13.3} y2={13.7} fill="#4d0c14" fillOpacity={1} stroke="none" />
      <ReferenceArea x1={LEAF_SHIFT} x2={40.38} y1={13.3} y2={13.7} fill="#2a9bd6" fillOpacity={1} stroke="none" />
    </ScatterChart>
  </div>
)

// ---- panel c
const labelColour = (id: string) => (greenLabels.includes(id) ? '#35a877' : blackLabels.includes(id) ? '#333' : '#d8404a')
const ChromTick = ({ x, y, payload }: any) => (
  <text transform={`translate(${x + 3},${y + 2}) rotate(-90)`} textAnchor="end" fontSize={8.4} fill={labelColour(payload.value)} fontFamily={FONT}>
    Chr. {payload.value}
  </text>
)
const PanelC = () => (
  <div style={{ position: 'absolute', left: 0, top: 400 }}>
    <BarChart width={1080} height={290} data={chromRows} margin={{ top: 26.9, right: 0, bottom: 0, left: 61.3 }} barCategoryGap={0}>
      <XAxis dataKey="id" interval={0} height={65.7} axisLine={false} tickLine={false} tick={<ChromTick />} />
      <YAxis orientation="right" type="number" domain={[0, 140]} ticks={[0, 20, 40, 60, 80, 100, 120]} width={43.8} axisLine={false} tickLine={false} tick={axisText} tickMargin={2} />
      <Bar dataKey="len" barSize={6.6} shape={chromShape('c', 100)} isAnimationActive={false} />
      {chromMarkers.map(([kind, id, mb], i) => (
        <ReferenceDot key={i} x={id} y={mb} ifOverflow="visible"
          shape={(p: any) => <Marker kind={kind} cx={p.cx} cy={p.cy} r={2.7} fill="#111" />} />
      ))}
    </BarChart>
  </div>
)

// ---- panel e
const geneLine = [{ x: 0, y: 0.5 }, { x: 8, y: 0.5 }]
const PanelEGene = () => (
  <div style={{ position: 'absolute', left: 0, top: 700 }}>
    <LineChart width={460} height={45} data={geneLine} margin={{ top: 0, right: 17.3, bottom: 4, left: 43.3 }}>
      <XAxis dataKey="x" type="number" orientation="top" domain={[0, 8]} ticks={kbTicks} height={25.7} tick={axisText} stroke="#555" tickSize={3} tickMargin={1} />
      <YAxis type="number" domain={[0, 1]} hide />
      <Line dataKey="y" stroke="#000" strokeWidth={1.8} dot={false} isAnimationActive={false} />
      {exonStart.map((s, i) => (
        <ReferenceArea key={i} x1={s} x2={exonEnd[i]} y1={0.32} y2={0.68} fill="#000" fillOpacity={1} stroke="none" />
      ))}
      {snpSites.map((s) => (
        <ReferenceLine key={s} stroke="#c0303a" strokeWidth={1} segment={[{ x: s, y: 0.32 }, { x: s, y: 0.68 }]} />
      ))}
    </LineChart>
  </div>
)
const blockRows = [0, 1, 2, 3]
const firstBlockStart = [48.3, 84.3, 84.3, 84.3]
const otherBlocks = [[153.7, 270], [327.3, 347.7], [365.3, 436.7]]
const snpColumns = [337, 382.7, 415]
const blockLine = [{ x: 0, y: 0 }, { x: 460, y: 0 }]
const PanelEBlocks = () => (
  <div style={{ position: 'absolute', left: 0, top: 785 }}>
    <LineChart width={460} height={35} data={blockLine} margin={{ top: 2, right: 0, bottom: 2.3, left: 0 }}>
      <XAxis type="number" dataKey="x" domain={[0, 460]} hide />
      <YAxis type="number" domain={[0, 4]} reversed hide />
      <Line dataKey="y" stroke="none" dot={false} isAnimationActive={false} />
      {blockRows.map((r) => (
        <ReferenceArea key={`a${r}`} x1={firstBlockStart[r]} x2={142.3} y1={r + 0.1} y2={r + 0.85} fill="#000" fillOpacity={1} stroke="none" />
      ))}
      {otherBlocks.flatMap(([s, e], b) => blockRows
        .filter((r) => !(b === 0 && r === 0))
        .map((r) => <ReferenceArea key={`b${b}${r}`} x1={s} x2={e} y1={r + 0.1} y2={r + 0.85} fill="#000" fillOpacity={1} stroke="none" />))}
      {[1, 2, 3].map((r) => (
        <ReferenceLine key={`d${r}`} segment={[{ x: 48.3, y: r + 0.5 }, { x: 84, y: r + 0.5 }]} stroke="#222" strokeDasharray="3 1" />
      ))}
      <ReferenceLine segment={[{ x: 153.7, y: 0.5 }, { x: 327, y: 0.5 }]} stroke="#555" strokeDasharray="3 1" />
      {snpColumns.map((x) => (
        <ReferenceLine key={x} segment={[{ x, y: 0 }, { x, y: 4 }]} stroke="#8a2a30" strokeWidth={1} />
      ))}
    </LineChart>
  </div>
)

const residueColour: Record<string, string> = {
  A: '#e8e23a', L: '#e8e23a', I: '#e8e23a', V: '#c9dc3c', M: '#e8e23a', F: '#8cc63f', Y: '#2f9e5a', W: '#4b3a9a',
  K: '#24a0a8', R: '#c9302c', H: '#2a78c4', D: '#2f9e5a', E: '#d23a2e', Q: '#36a86a', N: '#38a9a0', S: '#7fc04a', T: '#9fce4a', P: '#3c3c90', C: '#d8d83a', G: '#e08a30',
}
const MSA_CELL = 3.52
const msaCells = (seq: string, row: number, start: number) => seq.split('').map((res, i) => ({ x: start + i + 0.5, y: row + 0.5, res }))
const msaRows = [
  ...msaCells(msaFirst, 0, 0),
  ...[1, 2, 3].flatMap((r) => msaCells(msaLong, r, 11)),
  ...[0, 1, 2, 3].flatMap((r) => msaCells(msaShort, r, 88.5)),
  ...[0, 1, 2, 3].flatMap((r) => msaCells(msaLast, r, 94)),
]
const msaDots = [
  ...[1, 2, 3].flatMap((r) => msaCells('..........', r, 0)),
  ...msaCells('.'.repeat(75), 0, 11),
]
const msaCell = (p: any) => (
  <g>
    <rect x={p.cx - MSA_CELL / 2} y={p.cy - 2.4} width={MSA_CELL + 0.2} height={4.8} fill={residueColour[p.payload.res]} />
    <rect x={p.cx - 0.7} y={p.cy - 1} width={1.4} height={2} fill="#000" fillOpacity={0.2} />
  </g>
)
const msaDot = (p: any) => <rect x={p.cx - 0.4} y={p.cy - 0.4} width={0.9} height={0.9} fill="#8aa" />
const PanelEMsa = () => (
  <div style={{ position: 'absolute', left: 46, top: 847 }}>
    <ScatterChart width={396} height={20} margin={{ top: 0, right: 0, bottom: 0, left: 0 }}>
      <XAxis type="number" dataKey="x" domain={[0, 112.5]} hide />
      <YAxis type="number" dataKey="y" domain={[0, 4]} reversed hide />
      <Scatter data={msaRows} shape={msaCell} isAnimationActive={false} />
      <Scatter data={msaDots} shape={msaDot} isAnimationActive={false} />
    </ScatterChart>
  </div>
)

// ---- panel f
const copyRows = copyNumbers.map((copy, i) => ({
  copy, freq: frequency[i], sucrose: sucrose[i], err: sucroseErr[i], n: sampleN[i],
}))
const countLabel = (p: any) => {
  const { x, y, width, value } = p
  const inside = value === 142
  return <text x={x + width / 2} y={inside ? y + 21 : y - 2.5} textAnchor="middle" fontSize={10.5} fill={INK} fontFamily={FONT}>{value}</text>
}
const sampleLabel = (p: any) => {
  const { x, width, value, y, height } = p
  if (value === null || value === undefined) return null
  return (
    <text transform={`translate(${x + width / 2 + 3.5},${y + height - 3}) rotate(-90)`} fontSize={10} fill="#3e7a78" fontFamily={FONT}>
      <tspan fontStyle="italic">n</tspan> = {value}
    </text>
  )
}
const sucroseDot = (p: any) => (p.value === null || p.value === undefined || p.cy === null ? <g key={p.index} /> : (
  <rect key={p.index} x={p.cx - 2} y={p.cy - 2} width={4} height={4} fill="#3f6a98" />
))
const PanelF = () => (
  <div style={{ position: 'absolute', left: 462, top: 700 }}>
    <ComposedChart width={290} height={215} data={copyRows} barCategoryGap={0} margin={{ top: 18.7, right: 0, bottom: 0, left: 0 }}>
      <XAxis dataKey="copy" interval={0} height={33} tick={axisText} stroke="#555" tickSize={3} />
      <YAxis yAxisId="l" type="number" domain={[0, 200]} ticks={[0, 25, 50, 75, 100, 125, 150, 175, 200]} width={38.7}
        tickFormatter={(v) => (v % 50 === 0 ? String(v) : '')} tick={axisText} stroke="#777" tickSize={3} />
      <YAxis yAxisId="r" orientation="right" type="number" domain={[7, 8.15]} ticks={[7, 7.1, 7.2, 7.3, 7.4, 7.5, 7.6, 7.7, 7.8, 7.9, 8, 8.1]} width={49.3}
        tickFormatter={(v) => (Math.round(v * 10) % 2 === 0 ? v.toFixed(1) : '')} tick={axisText} stroke="#9aaabb" tickSize={3} />
      <Bar yAxisId="l" dataKey="freq" fill="#c4941c" stroke="#3a2a00" strokeWidth={1} isAnimationActive={false}>
        <LabelList dataKey="n" content={sampleLabel} />
        <LabelList dataKey="freq" content={countLabel} />
      </Bar>
      <Line yAxisId="r" dataKey="sucrose" stroke="#3f6a98" strokeWidth={1.2} dot={sucroseDot} connectNulls={false} isAnimationActive={false}>
        <ErrorBar dataKey="err" width={4} stroke="#3f6a98" strokeWidth={1} />
      </Line>
      <ReferenceLine yAxisId="l" segment={[{ x: 0, y: 94 }, { x: 0, y: 192 }]} stroke="#3f6a98" />
      <ReferenceLine yAxisId="l" segment={[{ x: 0, y: 192 }, { x: 1, y: 192 }]} stroke="#3f6a98" />
      <ReferenceLine yAxisId="l" segment={[{ x: 1, y: 178 }, { x: 1, y: 192 }]} stroke="#3f6a98" />
    </ComposedChart>
  </div>
)

// ---- panel g
const GTick = ({ x, y, payload }: any) => (
  <text transform={`translate(${x + 3.5},${y + 1}) rotate(-90)`} textAnchor="end" fontSize={10.5} fill={INK} fontFamily={FONT}>
    Chr. {payload.value}
  </text>
)
const PanelG = () => (
  <div style={{ position: 'absolute', left: 740, top: 700 }}>
    <BarChart width={340} height={231} data={gRows} barCategoryGap={0} margin={{ top: 18.3, right: 0, bottom: 0, left: 11.15 }}>
      <XAxis dataKey="id" interval={0} height={66} axisLine={false} tickLine={false} tick={<GTick />} />
      <YAxis orientation="right" type="number" domain={[0, 100]} ticks={[0, 20, 40, 60, 80, 100]} width={40.6} tick={axisText} stroke="#888" tickSize={3} />
      <Bar dataKey="len" barSize={9} shape={chromShape('g', 56)} isAnimationActive={false} />
      {gMarkers.map(([kind, id, mb], i) => (
        <ReferenceDot key={i} x={id} y={mb} ifOverflow="visible"
          shape={(p: any) => <Marker kind={kind} cx={p.cx} cy={p.cy} r={kind === 'tri' ? 4 : id === '5g3-N' ? 3 : 2} fill="#111" />} />
      ))}
    </BarChart>
  </div>
)

// ---- annotations and legends drawn above the charts
const xc = (z: number) => z / 2.904
const xd = (z: number) => 540 + z / 2.904
const yc = (z: number) => 375 + z / 3
const cLeft: [string, number, number, number, string][] = [
  ['tri', 383, 55, 405, 'SUS2'], ['circle', 515, 110, 533, 'SPP3'], ['circleOpen', 515, 150, 533, 'SPP2'],
  ['triDown', 706, 70, 726, 'SPS4'], ['sq', 706, 104, 726, 'TB1'], ['circle', 706, 143, 726, 'SPP3'], ['circleOpen', 706, 181, 726, 'SPP2'],
  ['triOpen', 1190, 60, 1213, 'SWEET14'], ['triOpen', 1190, 93, 1213, 'SWEET14'], ['triOpen', 1190, 130, 1213, 'SWEET14'], ['triOpen', 1190, 170, 1213, 'SWEET14'],
  ['triOpen', 303, 325, 318, 'MNS2'], ['triOpen', 581, 318, 600, 'F2KP'], ['triOpen', 936, 372, 952, 'FBA'], ['circle', 1375, 351, 1390, 'NSF'], ['circle', 1495, 251, 1508, 'Calenxin'],
]
const cRight: [string, number, number, number, string][] = [
  ['sq', 490, 44, 509, 'TB1'], ['circle', 490, 78, 509, 'SUT5'], ['triOpen', 490, 115, 509, 'SWEET15'], ['triOpen', 490, 153, 509, 'SWEET15'],
  ['diamond', 490, 186, 509, 'SPP1'], ['sqOpen', 490, 224, 509, 'SXD1'], ['diamond', 490, 260, 509, 'SPS2'],
  ['circle', 214, 179, 233, 'SUT4'], ['sq', 214, 221, 233, 'TB1'], ['diamondOpen', 294, 252, 312, 'ANTL1'], ['diamondOpen', 373, 205, 388, 'CLC'],
  ['diamond', 818, 143, 838, 'SPS1'], ['sq', 818, 178, 838, 'TB1'], ['sq', 1299, 170, 1320, 'TB1'], ['circle', 1380, 93, 1400, 'SUT1'],
]
const leftLeaders = [
  [[358, 340], [358, 395]], [[431, 70], [431, 465]], [[553, 178], [553, 440]], [[636, 340], [636, 365], [573, 365], [573, 430]],
  [[744, 198], [744, 385]], [[982, 388], [982, 488]], [[1271, 182], [1271, 352]], [[1415, 368], [1415, 458]], [[1558, 268], [1558, 312]],
]
const rightLeaders = [
  [[255, 240], [255, 316], [446, 316], [446, 378]], [[349, 268], [349, 302], [470, 302], [470, 374]], [[421, 228], [421, 288], [497, 288], [497, 373]],
  [[542, 275], [542, 438]], [[862, 192], [862, 255], [612, 255], [612, 345]], [[1325, 185], [1325, 196], [1407, 196], [1407, 290]], [[1430, 140], [1430, 305]],
]
const gx = (z: number) => 740 + z / 3
const gy = (z: number) => 680 + z / 3
const gLeaders = [
  [[172, 165], [172, 233]], [[328, 185], [328, 237]], [[612, 120], [612, 137], [679, 137], [679, 158]], [[795, 115], [795, 204]],
]
const groupColours = ['#c08a5a', '#222']
const panelLetters: [string, number, number][] = [['a', 2, 15], ['b', 228, 15], ['d', 490, 15], ['c', 2, 387], ['e', 3, 705], ['f', 465, 708], ['g', 750, 702]]
const tpmLabels = ['0', '1.00', '2.00', '3.00', '4.00', '5.00', '6.00', '7.00', '8.00']
const densityLabels = ['1.0', '0.8', '0.6', '0.4', '0.2', '0']
const gDensityLabels = ['0.4', '0.3', '0.2', '0.1', '0']
const gDensityX = [190, 270, 345, 420, 500]
const bpLabels: [string, number, number][] = [['4152 bp', 45, 782], ['4178 bp', 87, 782], ['4784 bp', 152, 782], ['5008 bp', 252, 780], ['7199 bp', 325, 782], ['7600 bp', 363, 782], ['7636 bp', 405, 782]]

const Overlay = () => {
  let cursor = 0
  const spans = chromGroups.map((g, i) => {
    const s = cursor
    cursor += g.len.length
    return { i, x1: 65.4 + 8.26 * s - 3.2, x2: 65.4 + 8.26 * (cursor - 1) + 3.2 }
  })
  return (
    <svg width={1080} height={931} style={{ position: 'absolute', left: 0, top: 0, pointerEvents: 'none' }} fontFamily={FONT} fill={INK}>
      <defs>
        <linearGradient id="cbarC" x1="0" y1="1" x2="0" y2="0">
          {densityStops.map(([v, c]) => <stop key={v} offset={v} stopColor={c} />)}
        </linearGradient>
        <linearGradient id="cbarD" x1="0" y1="0" x2="1" y2="0">
          {tpmStops.map(([v, c]) => <stop key={v} offset={v / 8} stopColor={c} />)}
        </linearGradient>
        <linearGradient id="cbarG" x1="1" y1="0" x2="0" y2="0">
          {densityStops.map(([v, c]) => <stop key={v} offset={v} stopColor={c} />)}
        </linearGradient>
        <linearGradient id="fade" x1="0" y1="0" x2="0" y2="1">
          <stop offset="0" stopColor="#111" />
          <stop offset="0.45" stopColor="#222" stopOpacity={0.85} />
          <stop offset="1" stopColor="#111" stopOpacity={0} />
        </linearGradient>
      </defs>

      {panelLetters.map(([t, x, y]) => <text key={t} x={x} y={y} fontSize={15} fontWeight="bold" fill="#111">{t}</text>)}

      {/* a */}
      <text transform="translate(35,122) rotate(-90)" textAnchor="middle" fontSize={10.5}>Percentage</text>
      <text x={138.5} y={225} textAnchor="middle" fontSize={10.5}>Total IBD length with POJ2878 (Mb)</text>
      <rect x={72.7} y={80} width={96.3} height={14} fill="#fff" stroke="#c8c8c8" />
      <text x={79} y={90.8} fontSize={10}>≥821.6 Mb: 95.3%</text>

      {/* b */}
      <text transform="translate(238,118) rotate(-90)" textAnchor="middle" fontSize={10.5}>IBD density</text>
      <text x={365} y={244} textAnchor="middle" fontSize={10.5}>Population</text>
      <text x={402} y={49} textAnchor="middle" fontSize={9}>***</text>

      {/* d legends */}
      <rect x={507} y={12} width={154} height={14} fill="url(#cbarD)" />
      {tpmLabels.map((t, i) => {
        const x = 507 + (154 * i) / 8
        return (
          <g key={t}>
            <line x1={x} x2={x} y1={26} y2={29} stroke="#555" />
            <text transform={`translate(${x + 2},${33}) rotate(-45)`} textAnchor="end" fontSize={10}>{t}</text>
          </g>
        )
      })}
      <text x={666} y={23} fontSize={10.5}>log<tspan fontSize={7.5} dy={2.5}>2</tspan><tspan dy={-2.5}>[TPM + 1]</tspan></text>
      <rect x={734.5} y={25.7} width={13} height={15.3} fill="#c8c8c8" />
      <text x={750.7} y={37} fontSize={10.5}>Haplotype absent</text>
      <rect x={843} y={28} width={19.5} height={10} fill="#4d0c14" />
      <text x={866} y={37} fontSize={10.5}>Stem</text>
      <rect x={896} y={28} width={20} height={10} fill="#2a9bd6" />
      <text x={920} y={37} fontSize={10.5}>Leaf</text>
      <rect x={946} y={27} width={9.8} height={13} fill="none" stroke="#222" />
      <text x={959.5} y={37} fontSize={10.5}>Favourable haplotype</text>

      {/* c legend */}
      <rect x={2.7} y={409} width={12.8} height={240} fill="url(#cbarC)" />
      {densityLabels.map((t, i) => (
        <g key={t}>
          <line x1={15.5} x2={18} y1={409 + 48 * i} y2={409 + 48 * i} stroke="#555" />
          <text x={20.7} y={412.5 + 48 * i} fontSize={10.5}>{t}</text>
        </g>
      ))}
      <text transform="translate(51,530) rotate(-90)" textAnchor="middle" fontSize={10.5}>IBD density</text>
      <text transform="translate(1075,527) rotate(-90)" textAnchor="middle" fontSize={10.5}>Position (Mb)</text>
      {spans.map((s) => <line key={s.i} x1={s.x1} x2={s.x2} y1={627.4} y2={627.4} stroke={groupColours[s.i % 2]} strokeWidth={1.3} />)}

      {/* c leaders and gene names */}
      {leftLeaders.map((l, i) => <polyline key={i} points={l.map(([x, y]) => `${xc(x)},${yc(y)}`).join(' ')} fill="none" stroke="#777" strokeWidth={0.7} strokeDasharray="1 1" />)}
      {rightLeaders.map((l, i) => <polyline key={i} points={l.map(([x, y]) => `${xd(x)},${yc(y)}`).join(' ')} fill="none" stroke="#777" strokeWidth={0.7} strokeDasharray="1 1" />)}
      {cLeft.map(([k, mx, my, tx, t], i) => (
        <g key={i}>
          <Marker kind={k} cx={xc(mx)} cy={yc(my)} r={2.7} fill="#111" />
          <text x={xc(tx)} y={yc(my) + 3.4} fontSize={9.8} fontStyle="italic">{t}</text>
        </g>
      ))}
      {cRight.map(([k, mx, my, tx, t], i) => (
        <g key={i}>
          <Marker kind={k} cx={xd(mx)} cy={yc(my)} r={2.7} fill="#111" />
          <text x={xd(tx)} y={yc(my) + 3.4} fontSize={9.8} fontStyle="italic">{t}</text>
        </g>
      ))}
      <Marker kind="tri" cx={xd(1380)} cy={yc(124)} r={2.7} fill="#d0202e" />
      <text x={xd(1400)} y={yc(124) + 3.4} fontSize={9.8} fontStyle="italic" fill="#d0202e">SUS2</text>

      {/* e */}
      <text x={243} y={703} textAnchor="middle" fontSize={10.5}>Position (kb)</text>
      <polygon points="246,736 253,736 90,778 65,778" fill="url(#fade)" />
      <polygon points="274,736 290,736 275,780 170,780" fill="url(#fade)" />
      <polygon points="392,736 394,736 345,778 341,778" fill="url(#fade)" />
      <polygon points="412,736 414,736 390,778 384,778" fill="url(#fade)" />
      <polygon points="414,736 416,736 417,778 413,778" fill="url(#fade)" />
      {bpLabels.map(([t, x, y]) => <text key={t} x={x} y={y + 4} fontSize={10.3} fill="#222">{t}</text>)}
      {hapNames.map((t, i) => <text key={t} x={5} y={791.5 + 8.4 * i} fontSize={9.5}>{t}</text>)}
      <polygon points="48,817 84,817 81,844 47,844" fill="url(#fade)" />
      <polygon points="153.7,817 270,817 349,846 85,846" fill="url(#fade)" />
      {[[337, 817, 362, 846], [382.7, 817, 385, 846], [414, 817, 430, 846]].map(([a, b, c, d]) => (
        <g key={a}>
          <line x1={a} y1={b} x2={c} y2={d} stroke="#222" strokeWidth={0.9} />
          <polygon points={`${c},${d} ${c - 4},${d - 4} ${c + 1},${d - 5}`} fill="#111" />
        </g>
      ))}

      {/* f */}
      <text x={504} y={722} fontSize={10.5}><tspan fontStyle="italic">P</tspan> = 0.047</text>
      <rect x={624} y={713.5} width={14} height={7} fill="#c4941c" stroke="#3a2a00" />
      <text x={644} y={721} fontSize={10.5}>Frequency</text>
      <line x1={624} x2={638} y1={732} y2={732} stroke="#3f6a98" strokeWidth={1.2} />
      <rect x={629} y={730} width={4} height={4} fill="#3f6a98" />
      <text x={644} y={735.5} fontSize={10.5}>Sucrose</text>
      <text transform="translate(471,800) rotate(-90)" textAnchor="middle" fontSize={10.5}>Individual number</text>
      <text x={602} y={914} textAnchor="middle" fontSize={10.5}>Copy number</text>
      <text transform="translate(741,806) rotate(-90)" textAnchor="middle" fontSize={10.5}>log<tspan fontSize={7.5} dy={2}>2</tspan><tspan dy={-2}>[sucrose]</tspan></text>

      {/* g */}
      <rect x={784.3} y={701} width={123.4} height={8} fill="url(#cbarG)" />
      {gDensityLabels.map((t, i) => <text key={t} x={gx(gDensityX[i])} y={696} textAnchor="middle" fontSize={10.5}>{t}</text>)}
      <text x={845} y={720} textAnchor="middle" fontSize={10.5}>IBD density</text>
      <text transform="translate(1075,788) rotate(-90)" textAnchor="middle" fontSize={10.5}>Position (Mb)</text>
      {gLeaders.map((l, i) => <polyline key={i} points={l.map(([x, y]) => `${gx(x)},${gy(y)}`).join(' ')} fill="none" stroke="#777" strokeWidth={0.7} strokeDasharray="1 1" />)}
      <rect x={gx(127)} y={gy(146)} width={11.7} height={2} fill="#111" />
      <text x={gx(172)} y={gy(148) + 3.4} fontSize={9.8} fontStyle="italic">RPM1</text>
      <Marker kind="tri" cx={gx(288)} cy={gy(167)} r={4} fill="#111" />
      <text x={gx(308)} y={gy(168) + 3.4} fontSize={9.8} fontStyle="italic">CFM3</text>
      <Marker kind="sq" cx={gx(570)} cy={gy(45)} r={3} fill="#111" />
      <text x={gx(590)} y={gy(50) + 3.4} fontSize={9.8} fontStyle="italic">CFM3</text>
      <Marker kind="circle" cx={gx(570)} cy={gy(78)} r={3} fill="#111" />
      <text x={gx(590)} y={gy(80) + 3.4} fontSize={9.8} fontStyle="italic">bHLH11</text>
      <Marker kind="diamond" cx={gx(572)} cy={gy(107)} r={2.6} fill="#111" />
      <text x={gx(590)} y={gy(110) + 3.4} fontSize={9.8} fontStyle="italic">HVA22</text>
      <rect x={gx(750)} y={gy(103)} width={11.7} height={2} fill="#111" />
      <text x={gx(795)} y={gy(103) + 3.4} fontSize={9.8} fontStyle="italic">RPM1</text>
    </svg>
  )
}

export default function App() {
  return (
    <div style={{ position: 'absolute', left: 0, top: 0, width: 1080, height: 931, background: '#fff', fontFamily: FONT, overflow: 'hidden' }}>
      <PanelA />
      <PanelB />
      <PanelD />
      <PanelC />
      <PanelEGene />
      <PanelEBlocks />
      <PanelEMsa />
      <PanelF />
      <PanelG />
      <Overlay />
    </div>
  )
}
